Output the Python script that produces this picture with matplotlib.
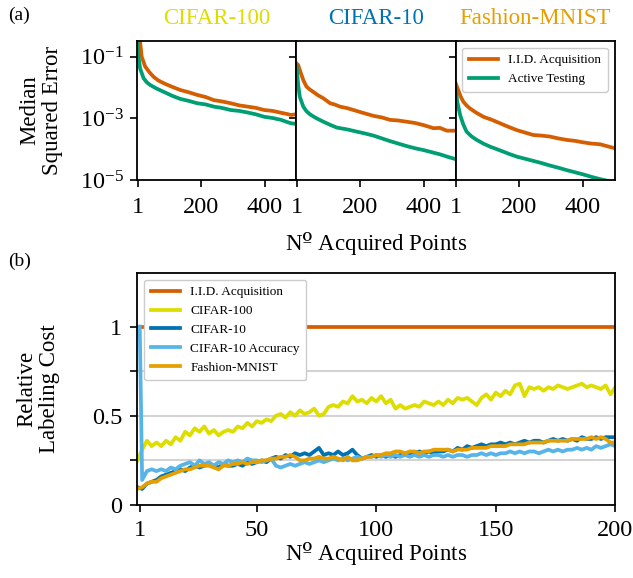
import numpy as np
import matplotlib
matplotlib.use("Agg")
import matplotlib.pyplot as plt

plt.rcParams["font.family"] = ["Liberation Serif", "DejaVu Serif"]
plt.rcParams["mathtext.fontset"] = "stix"
plt.rcParams["font.size"] = 16

col_iid = "#D55E00"
col_at = "#009E73"
col_c100 = "#DDDD00"
col_c10 = "#0072B2"
col_c10acc = "#56B4E9"
col_fm = "#E69F00"

# (a) median squared error, read as log10 values
c100_x_iid = [1, 9, 14, 25, 38, 51, 66, 83, 110, 135, 160, 188, 215, 240, 265, 293, 320, 346, 372, 398, 425, 451, 470, 482, 498]
c100_iid = [-0.3, -0.51, -1.0, -1.32, -1.50, -1.65, -1.77, -1.86, -1.98, -2.08, -2.15, -2.24, -2.31, -2.41, -2.45, -2.51, -2.58, -2.62, -2.66, -2.73, -2.76, -2.82, -2.86, -2.89, -2.87]
c100_x_at = [1, 4, 9, 20, 30, 41, 60, 83, 110, 135, 160, 188, 215, 240, 265, 293, 320, 346, 372, 398, 425, 451, 470, 482, 498]
c100_at = [-0.48, -1.0, -1.38, -1.70, -1.83, -1.92, -2.03, -2.14, -2.27, -2.37, -2.43, -2.51, -2.55, -2.62, -2.66, -2.73, -2.76, -2.81, -2.87, -2.95, -2.99, -3.05, -3.12, -3.16, -3.18]

c10_x_iid = [1, 6, 11, 22, 32, 42, 53, 68, 85, 106, 120, 137, 160, 189, 215, 242, 268, 294, 320, 346, 372, 399, 430, 450, 472, 498]
c10_iid = [-1.22, -1.27, -1.43, -1.76, -1.97, -2.06, -2.14, -2.25, -2.35, -2.51, -2.55, -2.62, -2.67, -2.76, -2.84, -2.92, -2.97, -3.05, -3.07, -3.11, -3.15, -3.22, -3.32, -3.31, -3.40, -3.40]
c10_x_at = [1, 6, 11, 22, 32, 43, 60, 85, 106, 127, 160, 189, 215, 242, 268, 294, 320, 346, 372, 399, 425, 451, 475, 498]
c10_at = [-1.32, -1.92, -2.30, -2.62, -2.77, -2.87, -2.98, -3.11, -3.21, -3.30, -3.36, -3.43, -3.49, -3.56, -3.65, -3.74, -3.82, -3.90, -3.97, -4.03, -4.10, -4.17, -4.25, -4.32]

fm_x_iid = [1, 9, 17, 25, 35, 46, 66, 88, 115, 140, 165, 192, 218, 244, 270, 296, 322, 349, 375, 401, 427, 453, 478, 500]
fm_iid = [-1.86, -2.08, -2.30, -2.46, -2.58, -2.68, -2.82, -2.95, -3.05, -3.16, -3.27, -3.38, -3.46, -3.54, -3.56, -3.59, -3.65, -3.70, -3.73, -3.78, -3.82, -3.84, -3.91, -3.97]
fm_x_at = [1, 6, 15, 25, 35, 50, 67, 88, 109, 130, 150, 170, 192, 218, 244, 270, 296, 322, 349, 375, 401, 427, 453, 474]
fm_at = [-2.03, -2.46, -2.89, -3.20, -3.43, -3.58, -3.70, -3.82, -3.92, -4.00, -4.08, -4.16, -4.24, -4.31, -4.38, -4.45, -4.53, -4.60, -4.68, -4.75, -4.82, -4.90, -4.97, -5.02]

top_titles = ["CIFAR-100", "CIFAR-10", "Fashion-MNIST"]
top_title_colors = [col_c100, col_c10, col_fm]

# (b) relative labeling cost
x_b = np.arange(0, 201, 2)
x_acc = np.concatenate([[1], x_b[1:]])
iid_cost = [1.0] * len(x_b)
c100_cost = [0.25, 0.31, 0.36, 0.33, 0.35, 0.33, 0.36, 0.34, 0.38, 0.36,
             0.41, 0.39, 0.43, 0.41, 0.44, 0.40, 0.42, 0.39, 0.41, 0.42,
             0.41, 0.44, 0.43, 0.46, 0.44, 0.47, 0.46, 0.48, 0.47, 0.50,
             0.51, 0.49, 0.52, 0.50, 0.53, 0.51, 0.52, 0.54, 0.50, 0.51,
             0.55, 0.56, 0.55, 0.58, 0.57, 0.61, 0.58, 0.59, 0.57, 0.60,
             0.58, 0.61, 0.57, 0.59, 0.54, 0.56, 0.54, 0.55, 0.56, 0.55,
             0.58, 0.57, 0.56, 0.58, 0.56, 0.59, 0.57, 0.60, 0.59, 0.60,
             0.58, 0.56, 0.60, 0.62, 0.59, 0.63, 0.61, 0.64, 0.62, 0.67,
             0.68, 0.61, 0.66, 0.65, 0.66, 0.64, 0.66, 0.65, 0.67, 0.66,
             0.65, 0.66, 0.67, 0.68, 0.66, 0.67, 0.66, 0.65, 0.67, 0.62,
             0.66]
c10_cost = [0.10, 0.09, 0.12, 0.13, 0.14, 0.16, 0.17, 0.18, 0.19, 0.20,
            0.19, 0.21, 0.22, 0.21, 0.22, 0.23, 0.22, 0.21, 0.23, 0.22,
            0.22, 0.23, 0.22, 0.24, 0.23, 0.24, 0.25, 0.24, 0.26, 0.27,
            0.26, 0.28, 0.27, 0.29, 0.28, 0.29, 0.28, 0.30, 0.32, 0.28,
            0.29, 0.28, 0.30, 0.28, 0.29, 0.31, 0.28, 0.26, 0.27, 0.28,
            0.27, 0.28, 0.27, 0.28, 0.27, 0.28, 0.29, 0.28, 0.29, 0.30,
            0.29, 0.30, 0.29, 0.30, 0.30, 0.31, 0.30, 0.32, 0.31, 0.33,
            0.32, 0.33, 0.34, 0.33, 0.34, 0.34, 0.35, 0.34, 0.35, 0.34,
            0.35, 0.36, 0.35, 0.36, 0.36, 0.35, 0.36, 0.37, 0.36, 0.37,
            0.36, 0.37, 0.36, 0.38, 0.37, 0.37, 0.38, 0.37, 0.38, 0.38,
            0.38]
c10acc_cost = [1.00, 0.14, 0.19, 0.20, 0.19, 0.20, 0.19, 0.21, 0.20, 0.22,
               0.23, 0.24, 0.22, 0.25, 0.23, 0.24, 0.22, 0.24, 0.23, 0.25,
               0.24, 0.25, 0.24, 0.26, 0.25, 0.25, 0.24, 0.25, 0.26, 0.22,
               0.21, 0.22, 0.23, 0.22, 0.23, 0.24, 0.23, 0.24, 0.25, 0.24,
               0.25, 0.26, 0.25, 0.26, 0.25, 0.26, 0.27, 0.26, 0.27, 0.27,
               0.28, 0.27, 0.28, 0.27, 0.28, 0.27, 0.28, 0.27, 0.28, 0.27,
               0.28, 0.27, 0.28, 0.28, 0.27, 0.28, 0.27, 0.28, 0.28, 0.27,
               0.28, 0.28, 0.29, 0.28, 0.29, 0.28, 0.29, 0.29, 0.30, 0.29,
               0.30, 0.29, 0.30, 0.30, 0.29, 0.30, 0.31, 0.30, 0.31, 0.30,
               0.31, 0.31, 0.32, 0.31, 0.32, 0.31, 0.33, 0.32, 0.33, 0.34,
               0.33]
fm_cost = [0.09, 0.10, 0.12, 0.13, 0.13, 0.15, 0.16, 0.17, 0.18, 0.19,
           0.20, 0.20, 0.21, 0.22, 0.22, 0.22, 0.21, 0.20, 0.22, 0.22,
           0.23, 0.23, 0.24, 0.23, 0.24, 0.24, 0.25, 0.25, 0.26, 0.26,
           0.27, 0.27, 0.28, 0.27, 0.25, 0.25, 0.26, 0.26, 0.27, 0.26,
           0.26, 0.27, 0.26, 0.25, 0.27, 0.25, 0.25, 0.26, 0.27, 0.27,
           0.28, 0.28, 0.29, 0.29, 0.30, 0.30, 0.29, 0.30, 0.30, 0.29,
           0.30, 0.30, 0.31, 0.31, 0.31, 0.31, 0.30, 0.31, 0.31, 0.31,
           0.32, 0.32, 0.32, 0.32, 0.33, 0.33, 0.33, 0.33, 0.34, 0.34,
           0.34, 0.34, 0.35, 0.35, 0.35, 0.35, 0.36, 0.36, 0.36, 0.36,
           0.36, 0.37, 0.37, 0.37, 0.37, 0.38, 0.37, 0.38, 0.37, 0.35,
           0.35]

# masculine ordinal taken from DejaVu Serif (drawn with an underline bar)
xlabel_text = "N$\\mathrm{\u00ba}$ Acquired Points"

fig = plt.figure(figsize=(6.33, 5.78), dpi=100)

top_data = [
    (c100_x_iid, c100_iid, c100_x_at, c100_at),
    (c10_x_iid, c10_iid, c10_x_at, c10_at),
    (fm_x_iid, fm_iid, fm_x_at, fm_at),
]

lw = 2.7
axes_top = []
for i, (xi, yi, xa, ya) in enumerate(top_data):
    ax = fig.add_axes([0.217 + i * 0.2513, 0.6886, 0.2513, 0.2405])
    ax.plot(xi, 10 ** np.array(yi), color=col_iid, lw=lw, label="I.I.D. Acquisition")
    ax.plot(xa, 10 ** np.array(ya), color=col_at, lw=lw, label="Active Testing")
    ax.set_yscale("log")
    ax.set_ylim(1e-5, 10 ** -0.49)
    ax.set_xlim(0.5, 499)
    ax.set_yticks([1e-1, 1e-3, 1e-5])
    ax.minorticks_off()
    ax.set_xticks([1, 200, 400])
    ax.tick_params(direction="out", length=5, width=1.2, labelsize=17.5)
    ax.tick_params(axis="x", pad=7)
    ax.tick_params(axis="y", pad=5)
    for s in ax.spines.values():
        s.set_linewidth(1.3)
    if i > 0:
        ax.set_yticklabels([])
    ax.set_title(top_titles[i], color=top_title_colors[i], fontsize=16.5, pad=12)
    axes_top.append(ax)

axes_top[0].set_ylabel("Median\nSquared Error", fontsize=16.5, linespacing=1.1)
axes_top[0].yaxis.set_label_coords(-0.47, 0.5)
axes_top[1].set_xlabel(xlabel_text, fontsize=16.5, labelpad=9,
                       math_fontfamily="dejavuserif")
axes_top[2].legend(loc="upper right", fontsize=9.5, framealpha=1, edgecolor="#cccccc",
                   handlelength=2.2, borderpad=0.5)

ax = fig.add_axes([0.217, 0.1263, 0.755, 0.4014])
for g in [0.25, 0.5, 0.75]:
    ax.axhline(g, color="#d3d3d3", lw=1.5, zorder=0)
ax.plot(x_b, iid_cost, color=col_iid, lw=lw, label="I.I.D. Acquisition")
ax.plot(x_b, c100_cost, color=col_c100, lw=lw, label="CIFAR-100")
ax.plot(x_b, c10_cost, color=col_c10, lw=lw, label="CIFAR-10")
ax.plot(x_acc, c10acc_cost, color=col_c10acc, lw=lw, label="CIFAR-10 Accuracy")
ax.plot(x_b, fm_cost, color=col_fm, lw=lw, label="Fashion-MNIST")
ax.set_xlim(0, 200)
ax.set_ylim(0, 1.3)
ax.set_xticks([1, 50, 100, 150, 200])
ax.set_yticks([0, 0.25, 0.5, 0.75, 1])
ax.set_yticklabels(["0", "", "0.5", "", "1"])
ax.tick_params(direction="out", length=5, width=1.2, labelsize=17.5)
ax.tick_params(axis="x", pad=6)
ax.tick_params(axis="y", pad=6)
for s in ax.spines.values():
    s.set_linewidth(1.3)
ax.set_ylabel("Relative\nLabeling Cost", fontsize=16.5, linespacing=1.1)
ax.yaxis.set_label_coords(-0.162, 0.5)
ax.set_xlabel(xlabel_text, fontsize=16.5, labelpad=-1, math_fontfamily="dejavuserif")
ax.legend(loc="upper left", fontsize=9.5, framealpha=1, edgecolor="#cccccc",
          handlelength=2.2, borderpad=0.5)

fig.text(0.013, 0.965, "(a)", fontsize=14)
fig.text(0.013, 0.54, "(b)", fontsize=14)

fig.savefig("out.png", dpi=100)
